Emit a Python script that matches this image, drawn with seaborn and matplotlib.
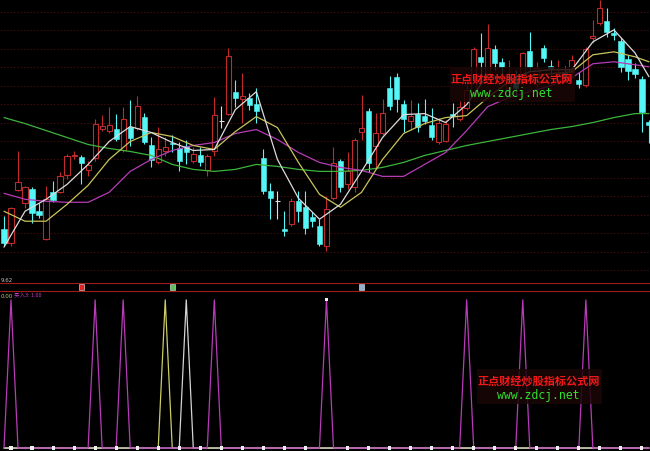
import matplotlib
matplotlib.use('Agg')
import matplotlib.pyplot as plt
from matplotlib.patches import Rectangle
from matplotlib.lines import Line2D
import seaborn as sns
import pandas as pd
import numpy as np

# daily K-line data (one entry per bar)
opens = [10.12, 9.98, 10.51, 10.38, 10.52, 10.30, 10.02, 10.49, 10.49, 10.66,
         10.85, 10.84, 10.71, 10.83, 11.13, 11.11, 11.13, 10.91, 11.15, 11.14,
         11.25, 10.96, 10.79, 10.90, 10.98, 10.93, 10.95, 10.80, 10.86, 10.71,
         10.90, 11.21, 11.28, 11.50, 11.43, 11.44, 11.38, 10.83, 10.50, 10.40,
         10.12, 10.17, 10.40, 10.34, 10.24, 10.15, 9.95, 10.43, 10.80, 10.57,
         10.54, 11.10, 11.31, 10.95, 11.09, 11.54, 11.65, 11.38, 11.21, 11.28,
         11.26, 11.17, 10.99, 11.01, 11.28, 11.23, 11.34, 11.47, 11.85, 11.67,
         11.93, 11.80, 11.54, 11.64, 11.60, 11.91, 11.58, 11.94, 11.76, 11.62,
         11.70, 11.70, 11.62, 11.57, 12.04, 12.19, 12.21, 12.09, 12.01, 11.83,
         11.73, 11.63, 11.20]
closes = [9.98, 10.33, 10.59, 10.54, 10.28, 10.26, 10.42, 10.41, 10.65, 10.85,
          10.86, 10.78, 10.76, 11.18, 11.16, 11.17, 11.03, 11.23, 11.04, 11.36,
          10.99, 10.81, 10.92, 10.94, 10.97, 10.80, 10.89, 10.87, 10.79, 10.85,
          11.27, 11.21, 11.86, 11.44, 11.46, 11.37, 11.31, 10.50, 10.43, 10.40,
          10.10, 10.40, 10.30, 10.13, 10.20, 9.97, 10.32, 10.78, 10.54, 10.70,
          11.02, 11.14, 10.78, 11.09, 11.29, 11.36, 11.43, 11.23, 11.26, 11.15,
          11.21, 11.05, 11.19, 11.18, 11.26, 11.35, 11.52, 11.93, 11.80, 11.94,
          11.79, 11.75, 11.68, 11.54, 11.89, 11.75, 11.74, 11.84, 11.74, 11.70,
          11.64, 11.82, 11.58, 11.93, 12.06, 12.34, 12.10, 12.07, 11.75, 11.71,
          11.68, 11.30, 11.17]
highs = [10.25, 10.34, 10.90, 10.55, 10.54, 10.38, 10.55, 10.60, 10.69, 10.87,
         10.90, 10.86, 10.80, 11.23, 11.27, 11.35, 11.28, 11.35, 11.42, 11.46,
         11.29, 11.05, 11.15, 11.05, 11.07, 10.99, 11.02, 10.94, 10.94, 10.87,
         11.45, 11.36, 11.94, 11.62, 11.69, 11.49, 11.54, 10.92, 10.58, 10.50,
         10.30, 10.43, 10.50, 10.50, 10.29, 10.22, 10.45, 10.94, 10.82, 10.89,
         11.04, 11.47, 11.34, 11.29, 11.43, 11.66, 11.69, 11.42, 11.42, 11.39,
         11.43, 11.34, 11.24, 11.22, 11.39, 11.42, 11.62, 11.95, 12.09, 12.18,
         11.97, 11.84, 11.82, 11.72, 11.90, 12.10, 11.80, 11.97, 11.82, 11.82,
         11.76, 11.87, 11.70, 11.95, 12.22, 12.42, 12.34, 12.14, 12.04, 11.87,
         11.79, 11.66, 11.22]
lows = [9.95, 9.95, 10.50, 10.33, 10.18, 10.23, 10.01, 10.39, 10.48, 10.62,
        10.82, 10.57, 10.65, 10.80, 11.11, 11.09, 11.01, 10.89, 10.95, 11.12,
        10.97, 10.74, 10.77, 10.85, 10.89, 10.70, 10.77, 10.78, 10.75, 10.65,
        10.85, 11.14, 11.27, 11.35, 11.19, 11.32, 11.19, 10.47, 10.22, 10.22,
        10.05, 10.15, 10.19, 10.07, 10.14, 9.95, 9.90, 10.41, 10.49, 10.52,
        10.49, 11.02, 10.69, 10.72, 11.07, 11.32, 11.30, 11.10, 11.12, 11.10,
        11.18, 11.02, 10.97, 10.99, 11.15, 11.21, 11.32, 11.44, 11.64, 11.62,
        11.72, 11.67, 11.50, 11.47, 11.57, 11.72, 11.54, 11.80, 11.67, 11.57,
        11.60, 11.67, 11.54, 11.55, 11.99, 12.17, 12.05, 12.02, 11.70, 11.62,
        11.64, 11.10, 10.98]

# moving averages at these bars
ma_idx = [0, 3, 6, 9, 12, 15, 18, 21, 24, 27, 30, 33, 36, 39, 42, 45,
          48, 51, 54, 57, 60, 63, 66, 69, 72, 75, 78, 81, 84, 87, 90, 92]
ma5 = [9.94, 10.30, 10.42, 10.57, 10.77, 11.00, 11.15, 11.09, 10.99, 10.91, 10.92, 11.32,
       11.50, 10.82, 10.43, 10.22, 10.37, 10.70, 11.04, 11.27, 11.28, 11.19, 11.37, 11.67,
       11.62, 11.70, 11.72, 11.72, 12.00, 12.12, 11.89, 11.65]
ma10 = [10.30, 10.20, 10.20, 10.37, 10.56, 10.82, 11.00, 11.09, 11.05, 10.96, 10.92, 11.10,
        11.25, 11.14, 10.79, 10.47, 10.34, 10.49, 10.82, 11.08, 11.18, 11.24, 11.26, 11.44,
        11.60, 11.66, 11.68, 11.70, 11.87, 11.90, 11.85, 11.80]
ma20 = [10.48, 10.42, 10.40, 10.39, 10.39, 10.49, 10.70, 10.82, 10.91, 10.96, 10.99, 11.08,
        11.12, 11.02, 10.89, 10.79, 10.74, 10.71, 10.65, 10.65, 10.77, 10.89, 11.11, 11.35,
        11.44, 11.50, 11.56, 11.64, 11.78, 11.80, 11.77, 11.75]
ma60 = [11.24, 11.18, 11.11, 11.04, 10.97, 10.93, 10.90, 10.86, 10.77, 10.72, 10.70, 10.72,
        10.77, 10.75, 10.72, 10.70, 10.70, 10.71, 10.74, 10.79, 10.86, 10.91, 10.96, 11.00,
        11.04, 11.08, 11.12, 11.15, 11.19, 11.24, 11.28, 11.28]

# indicator panel: bars where each signal fires (value 1, otherwise 0)
sig_magenta = [1, 13, 17, 30, 46, 66, 74, 83]
sig_yellow = [23]
sig_white = [26]
dot_idx = [1, 4, 7, 10, 13, 16, 19, 22, 25, 28, 31, 34, 37, 40, 43, 46,
           49, 52, 55, 58, 61, 64, 67, 70, 73, 76, 79, 82, 85, 88, 91]
dot_val = [0, 0, 0, 0, 0, 0, 0, 0, 0, 0, 0, 0, 0, 0, 0, 1,
           0, 0, 0, 0, 0, 0, 0, 0, 0, 0, 0, 0, 0, 0, 0]

# marker strip between panels
strip_idx = [11, 24, 51]
strip_colors = ['#e02424', '#5cc05c', '#8fb0d0']

RED = '#c02a2a'
CYAN = '#54f6f6'
W, H = 650, 452

sns.set_theme(style='dark', rc={'axes.facecolor': 'black', 'figure.facecolor': 'black',
                                'axes.edgecolor': 'black'})
plt.rcParams['font.family'] = ['Noto Sans CJK SC', 'DejaVu Sans']

fig = plt.figure(figsize=(W / 100, H / 100), dpi=100, facecolor='black')
ax = fig.add_axes([0, 1 - 283 / H, 1, 283 / H])
strip = fig.add_axes([0, 1 - 292 / H, 1, 8 / H])
low = fig.add_axes([0, 0, 1, 160 / H])

n = len(opens)
xlim = (-0.57, 92.15)
for a in (ax, strip, low):
    a.set_facecolor('black')
    a.set_xlim(*xlim)
    a.tick_params(length=0, labelleft=False, labelbottom=False)
    for s in a.spines.values():
        s.set_visible(False)

# ---- main panel ----
ax.set_ylim(9.59, 12.43)
ax.set_xticks([])
ax.set_yticks(np.linspace(12.30, 9.71, 15))
ax.grid(True, axis='y', color='#3a0909', linestyle=(0, (1.5, 1.5)), linewidth=0.8)

x = np.arange(n)
o, c, h, l = map(np.array, (opens, closes, highs, lows))
up, down, flat = c > o, c < o, c == o
bw = 0.74

ax.vlines(x[down], l[down], h[down], color=CYAN, lw=0.8, zorder=2)
ax.bar(x[down], (o - c)[down], bottom=c[down], width=bw, color=CYAN,
       edgecolor=CYAN, linewidth=0.4, zorder=3)
ax.vlines(x[up], c[up], h[up], color=RED, lw=0.8, zorder=2)
ax.vlines(x[up], l[up], o[up], color=RED, lw=0.8, zorder=2)
ax.bar(x[up], (c - o)[up], bottom=o[up], width=bw, facecolor='black',
       edgecolor=RED, linewidth=0.8, zorder=3)
ax.vlines(x[flat], l[flat], h[flat], color='#e0e0e0', lw=0.8, zorder=2)
ax.hlines(c[flat], x[flat] - bw / 2, x[flat] + bw / 2, color='#e0e0e0', lw=0.8, zorder=3)

ma_df = pd.concat([
    pd.DataFrame({'bar': ma_idx, 'price': ma60, 'line': 'MA60'}),
    pd.DataFrame({'bar': ma_idx, 'price': ma20, 'line': 'MA20'}),
    pd.DataFrame({'bar': ma_idx, 'price': ma10, 'line': 'MA10'}),
    pd.DataFrame({'bar': ma_idx, 'price': ma5, 'line': 'MA5'}),
])
ma_colors = {'MA5': '#dcdcdc', 'MA10': '#c8c45c', 'MA20': '#b63cb6', 'MA60': '#3cb43c'}
sns.lineplot(data=ma_df, x='bar', y='price', hue='line', palette=ma_colors,
             estimator=None, sort=True, linewidth=0.9, legend=False, ax=ax, zorder=5)
ax.set_xlabel('')
ax.set_ylabel('')

# ---- strip ----
strip.set_ylim(0, 1)
strip.set_xticks([])
strip.set_yticks([])
strip.scatter(strip_idx, [0.5] * len(strip_idx), marker='s', s=14,
              c=strip_colors, edgecolors='#f0f0f0', linewidths=0.4)

# ---- indicator panel ----
low.set_ylim(-0.02, 1.06)
low.set_xticks([])
low.set_yticks([])
sig_df = pd.concat([
    pd.DataFrame({'bar': x, 'v': [1 if i in sig_yellow else 0 for i in x], 's': 'y'}),
    pd.DataFrame({'bar': x, 'v': [1 if i in sig_white else 0 for i in x], 's': 'w'}),
    pd.DataFrame({'bar': x, 'v': [1 if i in sig_magenta else 0 for i in x], 's': 'm'}),
])
sns.lineplot(data=sig_df, x='bar', y='v', hue='s',
             palette={'y': '#cccc66', 'w': '#d4d4d4', 'm': '#b83cb8'},
             estimator=None, linewidth=0.9, legend=False, ax=low)
sns.scatterplot(x=dot_idx, y=dot_val, marker='s', s=5, color='#f0f0f0',
                edgecolor='none', ax=low, zorder=6)
low.set_xlabel('')
low.set_ylabel('')

# separators
for yy in (284, 292):
    fig.add_artist(Line2D([0, 1], [1 - yy / H] * 2, transform=fig.transFigure,
                          color='#a01c1c', lw=0.8))

fig.text(1 / W, 1 - 281 / H, '9.62', color='#c0c0c0', fontsize=4, va='center',
         family='DejaVu Sans')
fig.text(1 / W, 1 - 296 / H, '0.00', color='#c8c878', fontsize=4, va='center',
         family='DejaVu Sans')
fig.text(14 / W, 1 - 296 / H, '买入3: 1.00', color='#c040c0', fontsize=4, va='center')


def watermark(x0, y0):
    fig.add_artist(Rectangle((x0 / W, 1 - (y0 + 35) / H), 125 / W, 35 / H,
                             transform=fig.transFigure, facecolor='#1a0606',
                             edgecolor='none', alpha=0.85, zorder=8))
    fig.text((x0 + 62) / W, 1 - (y0 + 12) / H, '正点财经炒股指标公式网', color='#f01818',
             fontsize=8, fontweight='bold', ha='center', va='center', zorder=9)
    fig.text((x0 + 61) / W, 1 - (y0 + 26) / H, 'www.zdcj.net', color='#30e030',
             fontsize=8.3, family='DejaVu Sans Mono', ha='center', va='center', zorder=9)


watermark(450, 68)
watermark(477, 370)

fig.savefig('out.png', dpi=100, facecolor='black')
